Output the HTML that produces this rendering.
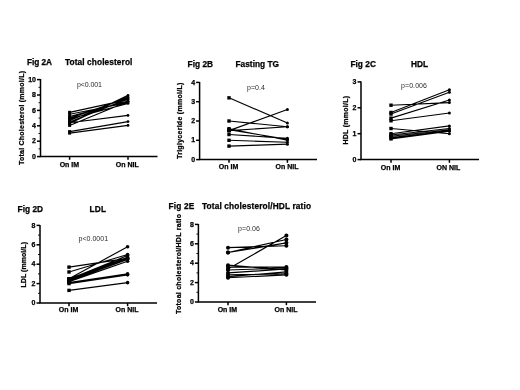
<!DOCTYPE html>
<html><head><meta charset="utf-8"><title>Fig 2</title>
<style>
html,body{margin:0;padding:0;background:#fff;}
body{width:520px;height:390px;overflow:hidden;}
svg{display:block;font-family:"Liberation Sans",sans-serif;filter:blur(0.45px);}
</style></head><body>
<svg width="520" height="390" viewBox="0 0 520 390">
<rect width="520" height="390" fill="#fff"/>
<path d="M40.5 79.1V156.6H157.5" fill="none" stroke="#000" stroke-width="1.5"/>
<path d="M37.0 156.6H40.5" stroke="#000" stroke-width="1.5"/>
<text x="36.0" y="158.75" font-size="7" font-weight="bold" fill="#000" text-anchor="end" stroke="#000" stroke-width="0.25">0</text>
<path d="M38.5 148.9H40.5" stroke="#000" stroke-width="0.9"/>
<path d="M37.0 141.2H40.5" stroke="#000" stroke-width="1.5"/>
<text x="36.0" y="143.35" font-size="7" font-weight="bold" fill="#000" text-anchor="end" stroke="#000" stroke-width="0.25">2</text>
<path d="M38.5 133.5H40.5" stroke="#000" stroke-width="0.9"/>
<path d="M37.0 125.8H40.5" stroke="#000" stroke-width="1.5"/>
<text x="36.0" y="127.95" font-size="7" font-weight="bold" fill="#000" text-anchor="end" stroke="#000" stroke-width="0.25">4</text>
<path d="M38.5 118.1H40.5" stroke="#000" stroke-width="0.9"/>
<path d="M37.0 110.39999999999999H40.5" stroke="#000" stroke-width="1.5"/>
<text x="36.0" y="112.55" font-size="7" font-weight="bold" fill="#000" text-anchor="end" stroke="#000" stroke-width="0.25">6</text>
<path d="M38.5 102.69999999999999H40.5" stroke="#000" stroke-width="0.9"/>
<path d="M37.0 95.0H40.5" stroke="#000" stroke-width="1.5"/>
<text x="36.0" y="97.15" font-size="7" font-weight="bold" fill="#000" text-anchor="end" stroke="#000" stroke-width="0.25">8</text>
<path d="M38.5 87.3H40.5" stroke="#000" stroke-width="0.9"/>
<path d="M37.0 79.6H40.5" stroke="#000" stroke-width="1.5"/>
<text x="36.0" y="81.75" font-size="7" font-weight="bold" fill="#000" text-anchor="end" stroke="#000" stroke-width="0.25">10</text>
<path d="M69.6 156.6v3.2" stroke="#000" stroke-width="1.5"/>
<path d="M128 156.6v3.2" stroke="#000" stroke-width="1.5"/>
<text x="69.4" y="166.5" font-size="7" font-weight="bold" fill="#000" text-anchor="middle" stroke="#000" stroke-width="0.25">On IM</text>
<text x="127.3" y="166.5" font-size="7" font-weight="bold" fill="#000" text-anchor="middle" stroke="#000" stroke-width="0.25">On NIL</text>
<path d="M69.6 112.32L128 99.62M69.6 114.25L128 102.7M69.6 116.56L128 101.16M69.6 118.1L128 98.08M69.6 118.87L128 103.47M69.6 120.41L128 96.92M69.6 121.95L128 98.85M69.6 123.49L128 95.38M69.6 125.41L128 101.54M69.6 122.72L128 115.41M69.6 131.57L128 121.56M69.6 133.12L128 125.41" fill="none" stroke="#000" stroke-width="1.15"/>
<rect x="68.1" y="110.82" width="3.0" height="3.0"/><circle cx="128" cy="99.62" r="1.4"/>
<rect x="68.1" y="112.75" width="3.0" height="3.0"/><circle cx="128" cy="102.7" r="1.4"/>
<rect x="68.1" y="115.06" width="3.0" height="3.0"/><circle cx="128" cy="101.16" r="1.4"/>
<rect x="68.1" y="116.6" width="3.0" height="3.0"/><circle cx="128" cy="98.08" r="1.4"/>
<rect x="68.1" y="117.37" width="3.0" height="3.0"/><circle cx="128" cy="103.47" r="1.4"/>
<rect x="68.1" y="118.91" width="3.0" height="3.0"/><circle cx="128" cy="96.92" r="1.4"/>
<rect x="68.1" y="120.45" width="3.0" height="3.0"/><circle cx="128" cy="98.85" r="1.4"/>
<rect x="68.1" y="121.99" width="3.0" height="3.0"/><circle cx="128" cy="95.38" r="1.4"/>
<rect x="68.1" y="123.91" width="3.0" height="3.0"/><circle cx="128" cy="101.54" r="1.4"/>
<rect x="68.1" y="121.22" width="3.0" height="3.0"/><circle cx="128" cy="115.41" r="1.4"/>
<rect x="68.1" y="130.07" width="3.0" height="3.0"/><circle cx="128" cy="121.56" r="1.4"/>
<rect x="68.1" y="131.62" width="3.0" height="3.0"/><circle cx="128" cy="125.41" r="1.4"/>
<text x="27" y="65.15" font-size="8.3" font-weight="bold" fill="#000" text-anchor="start" stroke="#000" stroke-width="0.25" textLength="25" lengthAdjust="spacing">Fig 2A</text>
<text x="65" y="65.15" font-size="8.3" font-weight="bold" fill="#000" text-anchor="start" stroke="#000" stroke-width="0.25" textLength="67.4" lengthAdjust="spacing">Total cholesterol</text>
<text x="77" y="86.8" font-size="7" font-weight="normal" fill="#2a2a2a" text-anchor="start" textLength="25" lengthAdjust="spacing">p&lt;0.001</text>
<text x="23.7" y="165" font-size="7" font-weight="bold" fill="#000" text-anchor="start" stroke="#000" stroke-width="0.25" textLength="94" lengthAdjust="spacing" transform="rotate(-90 23.7 165)">Total Cholesterol (mmol/L)</text>
<path d="M199.6 81.89999999999999V159.6H317" fill="none" stroke="#000" stroke-width="1.5"/>
<path d="M196.1 159.6H199.6" stroke="#000" stroke-width="1.5"/>
<text x="195.1" y="161.75" font-size="7" font-weight="bold" fill="#000" text-anchor="end" stroke="#000" stroke-width="0.25">0</text>
<path d="M196.1 140.29999999999998H199.6" stroke="#000" stroke-width="1.5"/>
<text x="195.1" y="142.45" font-size="7" font-weight="bold" fill="#000" text-anchor="end" stroke="#000" stroke-width="0.25">1</text>
<path d="M196.1 121.0H199.6" stroke="#000" stroke-width="1.5"/>
<text x="195.1" y="123.15" font-size="7" font-weight="bold" fill="#000" text-anchor="end" stroke="#000" stroke-width="0.25">2</text>
<path d="M196.1 101.69999999999999H199.6" stroke="#000" stroke-width="1.5"/>
<text x="195.1" y="103.85" font-size="7" font-weight="bold" fill="#000" text-anchor="end" stroke="#000" stroke-width="0.25">3</text>
<path d="M196.1 82.39999999999999H199.6" stroke="#000" stroke-width="1.5"/>
<text x="195.1" y="84.55" font-size="7" font-weight="bold" fill="#000" text-anchor="end" stroke="#000" stroke-width="0.25">4</text>
<path d="M229 159.6v3.2" stroke="#000" stroke-width="1.5"/>
<path d="M287.4 159.6v3.2" stroke="#000" stroke-width="1.5"/>
<text x="228.6" y="169.2" font-size="7" font-weight="bold" fill="#000" text-anchor="middle" stroke="#000" stroke-width="0.25">On IM</text>
<text x="287" y="169.2" font-size="7" font-weight="bold" fill="#000" text-anchor="middle" stroke="#000" stroke-width="0.25">On NIL</text>
<path d="M229 97.84L287.4 122.93M229 121.0L287.4 126.79M229 130.65L287.4 109.42M229 130.65L287.4 126.79M229 128.72L287.4 140.3M229 129.69L287.4 139.33M229 134.51L287.4 138.37M229 140.3L287.4 142.23M229 146.09L287.4 144.16" fill="none" stroke="#000" stroke-width="1.15"/>
<rect x="227.3" y="96.14" width="3.4" height="3.4"/><circle cx="287.4" cy="122.93" r="1.5"/>
<rect x="227.3" y="119.3" width="3.4" height="3.4"/><circle cx="287.4" cy="126.79" r="1.5"/>
<rect x="227.3" y="128.95" width="3.4" height="3.4"/><circle cx="287.4" cy="109.42" r="1.5"/>
<rect x="227.3" y="128.95" width="3.4" height="3.4"/><circle cx="287.4" cy="126.79" r="1.5"/>
<rect x="227.3" y="127.02" width="3.4" height="3.4"/><circle cx="287.4" cy="140.3" r="1.5"/>
<rect x="227.3" y="127.99" width="3.4" height="3.4"/><circle cx="287.4" cy="139.33" r="1.5"/>
<rect x="227.3" y="132.81" width="3.4" height="3.4"/><circle cx="287.4" cy="138.37" r="1.5"/>
<rect x="227.3" y="138.6" width="3.4" height="3.4"/><circle cx="287.4" cy="142.23" r="1.5"/>
<rect x="227.3" y="144.39" width="3.4" height="3.4"/><circle cx="287.4" cy="144.16" r="1.5"/>
<text x="187.6" y="67.15" font-size="8.3" font-weight="bold" fill="#000" text-anchor="start" stroke="#000" stroke-width="0.25" textLength="25.4" lengthAdjust="spacing">Fig 2B</text>
<text x="235.5" y="67.15" font-size="8.3" font-weight="bold" fill="#000" text-anchor="start" stroke="#000" stroke-width="0.25" textLength="43.5" lengthAdjust="spacing">Fasting TG</text>
<text x="247" y="90" font-size="7" font-weight="normal" fill="#2a2a2a" text-anchor="start" textLength="18" lengthAdjust="spacing">p=0.4</text>
<text x="182.4" y="159" font-size="7" font-weight="bold" fill="#000" text-anchor="start" stroke="#000" stroke-width="0.25" textLength="76.3" lengthAdjust="spacing" transform="rotate(-90 182.4 159)">Triglyceride (mmol/L)</text>
<path d="M361 81.4V159.6H479" fill="none" stroke="#000" stroke-width="1.5"/>
<path d="M357.5 159.6H361" stroke="#000" stroke-width="1.5"/>
<text x="356.5" y="161.75" font-size="7" font-weight="bold" fill="#000" text-anchor="end" stroke="#000" stroke-width="0.25">0</text>
<path d="M357.5 133.7H361" stroke="#000" stroke-width="1.5"/>
<text x="356.5" y="135.85" font-size="7" font-weight="bold" fill="#000" text-anchor="end" stroke="#000" stroke-width="0.25">1</text>
<path d="M357.5 107.8H361" stroke="#000" stroke-width="1.5"/>
<text x="356.5" y="109.95" font-size="7" font-weight="bold" fill="#000" text-anchor="end" stroke="#000" stroke-width="0.25">2</text>
<path d="M357.5 81.9H361" stroke="#000" stroke-width="1.5"/>
<text x="356.5" y="84.05" font-size="7" font-weight="bold" fill="#000" text-anchor="end" stroke="#000" stroke-width="0.25">3</text>
<path d="M391 159.6v3.2" stroke="#000" stroke-width="1.5"/>
<path d="M449.4 159.6v3.2" stroke="#000" stroke-width="1.5"/>
<text x="390.6" y="169.8" font-size="7" font-weight="bold" fill="#000" text-anchor="middle" stroke="#000" stroke-width="0.25">On IM</text>
<text x="448.4" y="169.8" font-size="7" font-weight="bold" fill="#000" text-anchor="middle" stroke="#000" stroke-width="0.25">ON NIL</text>
<path d="M391 105.21L449.4 102.62M391 112.46L449.4 89.67M391 114.02L449.4 92.26M391 118.16L449.4 100.03M391 120.75L449.4 112.98M391 128.52L449.4 133.7M391 133.7L449.4 125.93M391 135.0L449.4 128.52M391 136.29L449.4 129.81M391 137.59L449.4 131.11M391 138.88L449.4 131.11" fill="none" stroke="#000" stroke-width="1.15"/>
<rect x="389.3" y="103.51" width="3.4" height="3.4"/><circle cx="449.4" cy="102.62" r="1.5"/>
<rect x="389.3" y="110.76" width="3.4" height="3.4"/><circle cx="449.4" cy="89.67" r="1.5"/>
<rect x="389.3" y="112.32" width="3.4" height="3.4"/><circle cx="449.4" cy="92.26" r="1.5"/>
<rect x="389.3" y="116.46" width="3.4" height="3.4"/><circle cx="449.4" cy="100.03" r="1.5"/>
<rect x="389.3" y="119.05" width="3.4" height="3.4"/><circle cx="449.4" cy="112.98" r="1.5"/>
<rect x="389.3" y="126.82" width="3.4" height="3.4"/><circle cx="449.4" cy="133.7" r="1.5"/>
<rect x="389.3" y="132.0" width="3.4" height="3.4"/><circle cx="449.4" cy="125.93" r="1.5"/>
<rect x="389.3" y="133.3" width="3.4" height="3.4"/><circle cx="449.4" cy="128.52" r="1.5"/>
<rect x="389.3" y="134.59" width="3.4" height="3.4"/><circle cx="449.4" cy="129.81" r="1.5"/>
<rect x="389.3" y="135.89" width="3.4" height="3.4"/><circle cx="449.4" cy="131.11" r="1.5"/>
<rect x="389.3" y="137.18" width="3.4" height="3.4"/><circle cx="449.4" cy="131.11" r="1.5"/>
<text x="350.4" y="67.15" font-size="8.3" font-weight="bold" fill="#000" text-anchor="start" stroke="#000" stroke-width="0.25" textLength="25.6" lengthAdjust="spacing">Fig 2C</text>
<text x="411" y="67.15" font-size="8.3" font-weight="bold" fill="#000" text-anchor="start" stroke="#000" stroke-width="0.25" textLength="17" lengthAdjust="spacing">HDL</text>
<text x="401" y="88" font-size="7" font-weight="normal" fill="#2a2a2a" text-anchor="start" textLength="26" lengthAdjust="spacing">p=0.006</text>
<text x="347.6" y="144.5" font-size="7" font-weight="bold" fill="#000" text-anchor="start" stroke="#000" stroke-width="0.25" textLength="48.5" lengthAdjust="spacing" transform="rotate(-90 347.6 144.5)">HDL (mmol/L)</text>
<path d="M40 224.9V303H157" fill="none" stroke="#000" stroke-width="1.5"/>
<path d="M36.5 303.0H40" stroke="#000" stroke-width="1.5"/>
<text x="35.5" y="305.15" font-size="7" font-weight="bold" fill="#000" text-anchor="end" stroke="#000" stroke-width="0.25">0</text>
<path d="M38 293.3H40" stroke="#000" stroke-width="0.9"/>
<path d="M36.5 283.6H40" stroke="#000" stroke-width="1.5"/>
<text x="35.5" y="285.75" font-size="7" font-weight="bold" fill="#000" text-anchor="end" stroke="#000" stroke-width="0.25">2</text>
<path d="M38 273.90000000000003H40" stroke="#000" stroke-width="0.9"/>
<path d="M36.5 264.2H40" stroke="#000" stroke-width="1.5"/>
<text x="35.5" y="266.35" font-size="7" font-weight="bold" fill="#000" text-anchor="end" stroke="#000" stroke-width="0.25">4</text>
<path d="M38 254.5H40" stroke="#000" stroke-width="0.9"/>
<path d="M36.5 244.8H40" stroke="#000" stroke-width="1.5"/>
<text x="35.5" y="246.95" font-size="7" font-weight="bold" fill="#000" text-anchor="end" stroke="#000" stroke-width="0.25">6</text>
<path d="M38 235.10000000000002H40" stroke="#000" stroke-width="0.9"/>
<path d="M36.5 225.4H40" stroke="#000" stroke-width="1.5"/>
<text x="35.5" y="227.55" font-size="7" font-weight="bold" fill="#000" text-anchor="end" stroke="#000" stroke-width="0.25">8</text>
<path d="M69 303v3.2" stroke="#000" stroke-width="1.5"/>
<path d="M127.6 303v3.2" stroke="#000" stroke-width="1.5"/>
<text x="68.6" y="312.4" font-size="7" font-weight="bold" fill="#000" text-anchor="middle" stroke="#000" stroke-width="0.25">On IM</text>
<text x="127" y="312.4" font-size="7" font-weight="bold" fill="#000" text-anchor="middle" stroke="#000" stroke-width="0.25">On NIL</text>
<path d="M69 267.11L127.6 258.38M69 271.96L127.6 254.5M69 278.75L127.6 246.74M69 278.75L127.6 257.41M69 279.72L127.6 258.38M69 280.69L127.6 259.35M69 281.66L127.6 261.29M69 282.63L127.6 273.9M69 283.6L127.6 274.87M69 279.24L127.6 255.47M69 290.39L127.6 282.63" fill="none" stroke="#000" stroke-width="1.15"/>
<rect x="67.3" y="265.41" width="3.4" height="3.4"/><circle cx="127.6" cy="258.38" r="1.8"/>
<rect x="67.3" y="270.26" width="3.4" height="3.4"/><circle cx="127.6" cy="254.5" r="1.8"/>
<rect x="67.3" y="277.05" width="3.4" height="3.4"/><circle cx="127.6" cy="246.74" r="1.8"/>
<rect x="67.3" y="277.05" width="3.4" height="3.4"/><circle cx="127.6" cy="257.41" r="1.8"/>
<rect x="67.3" y="278.02" width="3.4" height="3.4"/><circle cx="127.6" cy="258.38" r="1.8"/>
<rect x="67.3" y="278.99" width="3.4" height="3.4"/><circle cx="127.6" cy="259.35" r="1.8"/>
<rect x="67.3" y="279.96" width="3.4" height="3.4"/><circle cx="127.6" cy="261.29" r="1.8"/>
<rect x="67.3" y="280.93" width="3.4" height="3.4"/><circle cx="127.6" cy="273.9" r="1.8"/>
<rect x="67.3" y="281.9" width="3.4" height="3.4"/><circle cx="127.6" cy="274.87" r="1.8"/>
<rect x="67.3" y="277.54" width="3.4" height="3.4"/><circle cx="127.6" cy="255.47" r="1.8"/>
<rect x="67.3" y="288.69" width="3.4" height="3.4"/><circle cx="127.6" cy="282.63" r="1.8"/>
<text x="17.6" y="212.15" font-size="8.3" font-weight="bold" fill="#000" text-anchor="start" stroke="#000" stroke-width="0.25" textLength="25.4" lengthAdjust="spacing">Fig 2D</text>
<text x="89.6" y="212.15" font-size="8.3" font-weight="bold" fill="#000" text-anchor="start" stroke="#000" stroke-width="0.25" textLength="16.4" lengthAdjust="spacing">LDL</text>
<text x="78.5" y="240.5" font-size="7" font-weight="normal" fill="#2a2a2a" text-anchor="start" textLength="29.6" lengthAdjust="spacing">p&lt;0.0001</text>
<text x="25.6" y="287.5" font-size="7" font-weight="bold" fill="#000" text-anchor="start" stroke="#000" stroke-width="0.25" textLength="45.5" lengthAdjust="spacing" transform="rotate(-90 25.6 287.5)">LDL (mmol/L)</text>
<path d="M198.4 223.9V302H316" fill="none" stroke="#000" stroke-width="1.5"/>
<path d="M194.9 302.0H198.4" stroke="#000" stroke-width="1.5"/>
<text x="193.9" y="304.15" font-size="7" font-weight="bold" fill="#000" text-anchor="end" stroke="#000" stroke-width="0.25">0</text>
<path d="M196.4 292.3H198.4" stroke="#000" stroke-width="0.9"/>
<path d="M194.9 282.6H198.4" stroke="#000" stroke-width="1.5"/>
<text x="193.9" y="284.75" font-size="7" font-weight="bold" fill="#000" text-anchor="end" stroke="#000" stroke-width="0.25">2</text>
<path d="M196.4 272.90000000000003H198.4" stroke="#000" stroke-width="0.9"/>
<path d="M194.9 263.2H198.4" stroke="#000" stroke-width="1.5"/>
<text x="193.9" y="265.35" font-size="7" font-weight="bold" fill="#000" text-anchor="end" stroke="#000" stroke-width="0.25">4</text>
<path d="M196.4 253.5H198.4" stroke="#000" stroke-width="0.9"/>
<path d="M194.9 243.8H198.4" stroke="#000" stroke-width="1.5"/>
<text x="193.9" y="245.95" font-size="7" font-weight="bold" fill="#000" text-anchor="end" stroke="#000" stroke-width="0.25">6</text>
<path d="M196.4 234.10000000000002H198.4" stroke="#000" stroke-width="0.9"/>
<path d="M194.9 224.4H198.4" stroke="#000" stroke-width="1.5"/>
<text x="193.9" y="226.55" font-size="7" font-weight="bold" fill="#000" text-anchor="end" stroke="#000" stroke-width="0.25">8</text>
<path d="M228 302v3.2" stroke="#000" stroke-width="1.5"/>
<path d="M286.4 302v3.2" stroke="#000" stroke-width="1.5"/>
<text x="227.4" y="311.6" font-size="7" font-weight="bold" fill="#000" text-anchor="middle" stroke="#000" stroke-width="0.25">On IM</text>
<text x="286" y="311.6" font-size="7" font-weight="bold" fill="#000" text-anchor="middle" stroke="#000" stroke-width="0.25">On NIL</text>
<path d="M228 247.68L286.4 245.74M228 252.53L286.4 239.44M228 269.02L286.4 235.56M228 265.14L286.4 269.99M228 267.08L286.4 267.08M228 269.99L286.4 268.05M228 272.9L286.4 269.02M228 274.84L286.4 273.87M228 276.78L286.4 271.93M228 277.75L286.4 274.84M228 252.53L286.4 242.83" fill="none" stroke="#000" stroke-width="1.15"/>
<circle cx="228" cy="247.68" r="2"/><circle cx="286.4" cy="245.74" r="2"/>
<circle cx="228" cy="252.53" r="2"/><circle cx="286.4" cy="239.44" r="2"/>
<circle cx="228" cy="269.02" r="2"/><circle cx="286.4" cy="235.56" r="2"/>
<circle cx="228" cy="265.14" r="2"/><circle cx="286.4" cy="269.99" r="2"/>
<circle cx="228" cy="267.08" r="2"/><circle cx="286.4" cy="267.08" r="2"/>
<circle cx="228" cy="269.99" r="2"/><circle cx="286.4" cy="268.05" r="2"/>
<circle cx="228" cy="272.9" r="2"/><circle cx="286.4" cy="269.02" r="2"/>
<circle cx="228" cy="274.84" r="2"/><circle cx="286.4" cy="273.87" r="2"/>
<circle cx="228" cy="276.78" r="2"/><circle cx="286.4" cy="271.93" r="2"/>
<circle cx="228" cy="277.75" r="2"/><circle cx="286.4" cy="274.84" r="2"/>
<circle cx="228" cy="252.53" r="2"/><circle cx="286.4" cy="242.83" r="2"/>
<text x="168.4" y="208.55" font-size="8.3" font-weight="bold" fill="#000" text-anchor="start" stroke="#000" stroke-width="0.25" textLength="26.0" lengthAdjust="spacing">Fig 2E</text>
<text x="202" y="208.55" font-size="8.3" font-weight="bold" fill="#000" text-anchor="start" stroke="#000" stroke-width="0.25" textLength="109" lengthAdjust="spacing">Total cholesterol/HDL ratio</text>
<text x="238" y="231.4" font-size="7" font-weight="normal" fill="#2a2a2a" text-anchor="start" textLength="22" lengthAdjust="spacing">p=0.06</text>
<text x="181" y="314" font-size="7" font-weight="bold" fill="#000" text-anchor="start" stroke="#000" stroke-width="0.25" textLength="100" lengthAdjust="spacing" transform="rotate(-90 181 314)">Totoal cholesterol/HDL ratio</text>
</svg>
</body></html>
